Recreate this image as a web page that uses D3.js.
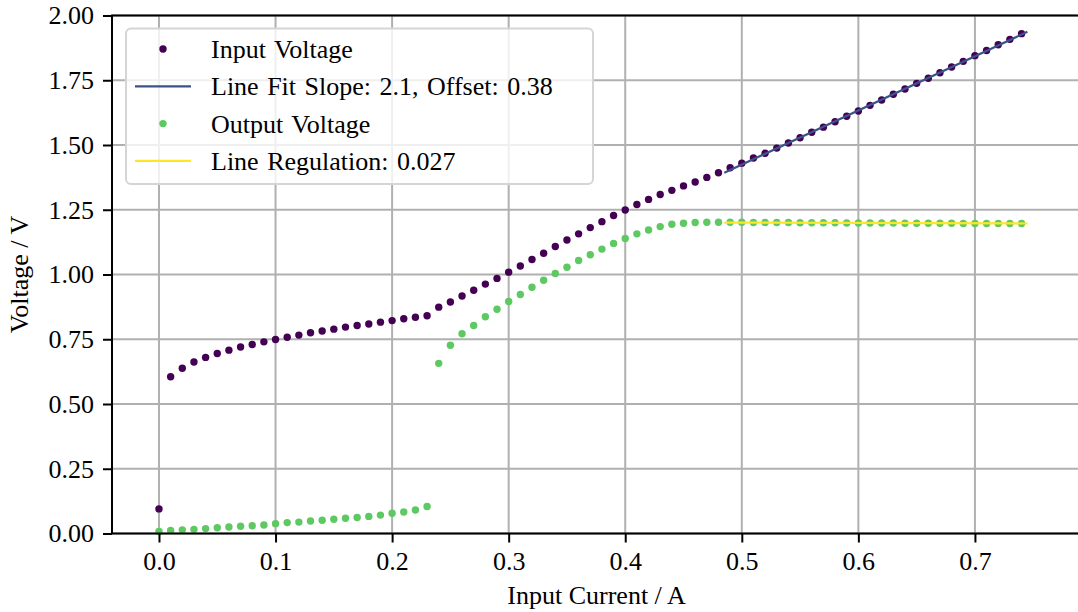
<!DOCTYPE html>
<html>
<head>
<meta charset="utf-8">
<script src="https://cdn.jsdelivr.net/npm/d3@7"></script>
<style>
  body { margin: 0; background: #fff; }
  svg text { font-family: "Liberation Serif", "Times New Roman", serif !important; }
</style>
</head>
<body>
<div id="chart"></div>
<script>
// 数据：输入电流 (A)
const current = [0.00, 0.01, 0.02, 0.03, 0.04, 0.05, 0.06, 0.07, 0.08, 0.09,
  0.10, 0.11, 0.12, 0.13, 0.14, 0.15, 0.16, 0.17, 0.18, 0.19,
  0.20, 0.21, 0.22, 0.23, 0.24, 0.25, 0.26, 0.27, 0.28, 0.29,
  0.30, 0.31, 0.32, 0.33, 0.34, 0.35, 0.36, 0.37, 0.38, 0.39,
  0.40, 0.41, 0.42, 0.43, 0.44, 0.45, 0.46, 0.47, 0.48, 0.49,
  0.50, 0.51, 0.52, 0.53, 0.54, 0.55, 0.56, 0.57, 0.58, 0.59,
  0.60, 0.61, 0.62, 0.63, 0.64, 0.65, 0.66, 0.67, 0.68, 0.69,
  0.70, 0.71, 0.72, 0.73, 0.74];

// 输入电压 (V)
const inputVoltage = [0.095, 0.605, 0.638, 0.662, 0.680, 0.695, 0.708, 0.720, 0.730, 0.740,
  0.749, 0.758, 0.766, 0.775, 0.782, 0.789, 0.797, 0.803, 0.809, 0.816,
  0.822, 0.829, 0.835, 0.841, 0.874, 0.894, 0.917, 0.939, 0.963, 0.985,
  1.009, 1.033, 1.058, 1.082, 1.108, 1.133, 1.157, 1.181, 1.204, 1.228,
  1.249, 1.270, 1.290, 1.309, 1.325, 1.342, 1.357, 1.375, 1.393, 1.412,
  1.430, 1.450, 1.468, 1.488, 1.508, 1.528, 1.549, 1.569, 1.590, 1.611,
  1.631, 1.653, 1.674, 1.696, 1.716, 1.738, 1.758, 1.779, 1.801, 1.823,
  1.845, 1.865, 1.887, 1.908, 1.930];

// 输出电压 (V)
const outputVoltage = [0.008, 0.012, 0.014, 0.016, 0.019, 0.022, 0.025, 0.028, 0.030, 0.033,
  0.038, 0.042, 0.044, 0.048, 0.051, 0.055, 0.059, 0.062, 0.066, 0.071,
  0.078, 0.083, 0.091, 0.104, 0.657, 0.727, 0.771, 0.803, 0.837, 0.866,
  0.896, 0.923, 0.951, 0.978, 1.004, 1.028, 1.054, 1.076, 1.098, 1.120,
  1.139, 1.157, 1.172, 1.185, 1.194, 1.198, 1.201, 1.202, 1.202, 1.202,
  1.202, 1.201, 1.201, 1.201, 1.201, 1.200, 1.200, 1.200, 1.200, 1.199,
  1.199, 1.199, 1.199, 1.199, 1.198, 1.198, 1.198, 1.198, 1.198, 1.197,
  1.197, 1.197, 1.197, 1.197, 1.197];

// 拟合直线端点
const fitCurrent = [0.485, 0.745];
const fitVoltage = [1.393, 1.937];
const regCurrent = [0.485, 0.745];
const regVoltage = [1.2005, 1.197];

const xTicks = [0.0, 0.1, 0.2, 0.3, 0.4, 0.5, 0.6, 0.7];
const yTicks = [0.00, 0.25, 0.50, 0.75, 1.00, 1.25, 1.50, 1.75, 2.00];

const legendItems = [
  { label: "Input Voltage", type: "dot", color: "#440154" },
  { label: "Line Fit Slope: 2.1, Offset: 0.38", type: "line", color: "#3b528b" },
  { label: "Output Voltage", type: "dot", color: "#5ec962" },
  { label: "Line Regulation: 0.027", type: "line", color: "#fde725" }
];

const W = 1078, H = 612;
const box = { left: 112, top: 15.5, right: 1081, bottom: 533.5 };
const fontSize = 26;
const serif = '"Liberation Serif", "Times New Roman", serif';
const dotR = 3.7;

const svg = d3.select("#chart").append("svg")
  .attr("width", W).attr("height", H)
  .attr("font-family", serif);

const x = d3.scaleLinear().domain([-0.0403, 0.791]).range([box.left, box.right]);
const y = d3.scaleLinear().domain([0, 2]).range([box.bottom, box.top]);

// 网格
const grid = svg.append("g");
grid.selectAll(".gx").data(xTicks).enter().append("line")
  .attr("x1", d => x(d)).attr("x2", d => x(d))
  .attr("y1", box.top).attr("y2", box.bottom)
  .attr("stroke", "#b0b0b0").attr("stroke-width", 2);
grid.selectAll(".gy").data(yTicks).enter().append("line")
  .attr("x1", box.left).attr("x2", box.right)
  .attr("y1", d => y(d)).attr("y2", d => y(d))
  .attr("stroke", "#b0b0b0").attr("stroke-width", 2);

const pts = (xs, ys) => xs.map((d, i) => [d, ys[i]]);
const line = d3.line().x(d => x(d[0])).y(d => y(d[1]));

// 输入电压散点 + 拟合线
svg.append("g").selectAll("circle")
  .data(pts(current, inputVoltage)).enter().append("circle")
  .attr("cx", d => x(d[0])).attr("cy", d => y(d[1]))
  .attr("r", dotR).attr("fill", "#440154");
svg.append("path").datum(pts(fitCurrent, fitVoltage))
  .attr("d", line).attr("fill", "none")
  .attr("stroke", "#3b528b").attr("stroke-width", 2.2);

// 输出电压散点 + 调整率线
svg.append("g").selectAll("circle")
  .data(pts(current, outputVoltage)).enter().append("circle")
  .attr("cx", d => x(d[0])).attr("cy", d => y(d[1]))
  .attr("r", dotR).attr("fill", "#5ec962");
svg.append("path").datum(pts(regCurrent, regVoltage))
  .attr("d", line).attr("fill", "none")
  .attr("stroke", "#fde725").attr("stroke-width", 2.2);

// 坐标轴
const xAxis = svg.append("g")
  .attr("transform", `translate(0,${box.bottom})`)
  .call(d3.axisBottom(x).tickValues(xTicks).tickFormat(d3.format(".1f"))
    .tickSize(9).tickPadding(9));
const yAxis = svg.append("g")
  .attr("transform", `translate(${box.left},0)`)
  .call(d3.axisLeft(y).tickValues(yTicks).tickFormat(d3.format(".2f"))
    .tickSize(9).tickPadding(9));
[xAxis, yAxis].forEach(a => {
  a.attr("font-family", serif).attr("font-size", fontSize);
  a.select(".domain").remove();
  a.selectAll("line").attr("stroke", "#000").attr("stroke-width", 2);
  a.selectAll("text").attr("fill", "#000").attr("font-family", serif);
});

// 边框
svg.append("path")
  .attr("d", `M${box.right},${box.top}H${box.left}V${box.bottom}H${box.right}`)
  .attr("fill", "none").attr("stroke", "#000").attr("stroke-width", 2);

// 轴标签
svg.append("text")
  .attr("x", (box.left + box.right) / 2).attr("y", 604)
  .attr("text-anchor", "middle").attr("font-size", fontSize)
  .text("Input Current / A");
svg.append("text")
  .attr("transform", `translate(28,${(box.top + box.bottom) / 2}) rotate(-90)`)
  .attr("text-anchor", "middle").attr("font-size", fontSize)
  .text("Voltage / V");

// 图例
const lg = svg.append("g");
lg.append("rect")
  .attr("x", 126).attr("y", 28.5).attr("width", 467).attr("height", 155.5)
  .attr("rx", 5).attr("fill", "#fff").attr("fill-opacity", 0.8)
  .attr("stroke", "#d5d5d5").attr("stroke-width", 2);
legendItems.forEach((d, i) => {
  const cy = 49 + i * 37.3;
  if (d.type === "dot") {
    lg.append("circle").attr("cx", 163).attr("cy", cy).attr("r", dotR).attr("fill", d.color);
  } else {
    lg.append("line").attr("x1", 135).attr("x2", 191).attr("y1", cy).attr("y2", cy)
      .attr("stroke", d.color).attr("stroke-width", 2.2);
  }
  lg.append("text").attr("x", 211).attr("y", cy + 9)
    .attr("font-size", fontSize).style("word-spacing", "2px")
    .text(d.label);
});
</script>
</body>
</html>
